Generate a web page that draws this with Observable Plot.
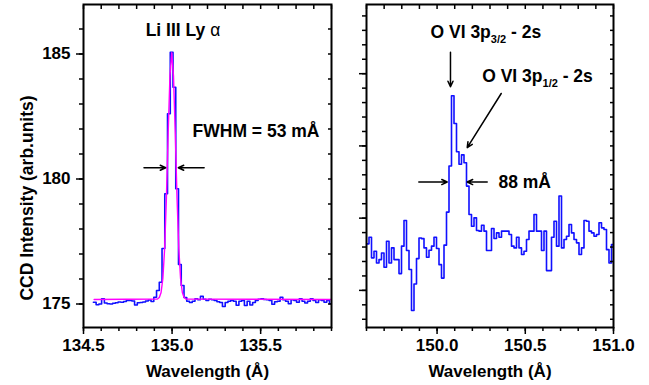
<!DOCTYPE html>
<html><head><meta charset="utf-8">
<script src="https://cdn.jsdelivr.net/npm/d3@7"></script>
<script src="https://cdn.jsdelivr.net/npm/@observablehq/plot@0.6"></script>
<style>
body{margin:0;background:#fff;}
#chart{display:flex;width:649px;height:385px;background:#fff;}
</style></head><body><div id="chart"></div>
<script>
// ---------- Left panel data: Li III Ly-alpha spectrum (histogram bins) ----------
const leftBinStart = 134.5558;   // wavelength of first bin edge (Å)
const leftBinWidth = 0.0155;     // bin width (Å)
const leftCounts = [
  175.07,174.97,175.00,175.21,175.04,175.01,175.00,175.03,175.05,175.08,
  175.07,175.10,175.14,175.14,175.12,174.96,175.05,175.06,175.08,175.12,
  175.16,175.10,175.27,175.54,175.87,177.22,179.41,182.61,185.07,183.67,
  179.61,176.58,175.74,175.26,175.11,175.06,175.11,175.21,175.17,175.31,
  175.19,175.14,175.19,175.17,175.14,175.09,175.06,174.90,175.06,175.11,
  175.14,175.11,174.95,175.11,175.14,174.94,175.11,174.96,175.06,175.14,
  175.19,175.21,175.18,175.17,175.14,174.99,175.09,175.11,175.27,175.17,
  175.11,175.01,175.17,175.14,175.07,175.21,175.11,175.04,175.11,175.21,
  175.14,175.06,175.17,175.14,175.07,175.14,175.01
];
// Gaussian fit curve (magenta)
const leftFitX = [134.56,134.918,134.928,134.938,134.948,134.958,134.968,134.978,134.988,134.998,
                  135.008,135.018,135.028,135.038,135.048,135.058,135.068,135.078,135.9];
const leftFitY = [175.18,175.20,175.26,175.46,176.02,177.21,179.24,181.83,184.12,185.05,
                  184.12,181.83,179.24,177.21,176.02,175.46,175.26,175.20,175.18];
const leftXTicks = [134.5, 135.0, 135.5];
const leftXMinor = [134.5,134.6,134.7,134.8,134.9,135.0,135.1,135.2,135.3,135.4,135.5,135.6,135.7,135.8,135.9];
const leftYTicks = [175, 180, 185];
const leftYMinor = [175,176,177,178,179,180,181,182,183,184,185,186];

// ---------- Right panel data: O VI 3p - 2s spectrum ----------
const rightBinStart = 149.6;
const rightBinWidth = 0.01417;
const rightCounts = [
  13.22,13.68,12.25,12.71,11.90,12.13,12.59,11.60,13.40,11.90,
  12.94,12.13,12.13,11.16,13.06,14.84,12.76,11.44,8.61,10.44,
  12.20,13.63,13.58,12.94,12.29,12.78,13.06,13.68,12.90,11.78,
  10.85,13.13,15.42,18.61,23.47,21.55,19.60,18.73,19.38,18.84,
  17.22,15.25,14.44,15.02,14.14,14.10,14.51,14.10,12.76,12.76,
  14.28,13.59,13.98,13.68,14.10,14.10,14.10,13.87,13.06,12.94,
  13.68,12.94,12.48,12.71,13.52,14.10,14.10,15.25,14.10,14.10,
  12.76,14.10,11.37,11.37,13.68,14.79,13.06,16.53,12.94,13.52,
  13.75,14.56,13.98,13.52,13.29,12.48,12.94,14.84,14.79,14.10,
  13.98,13.75,13.87,14.68,14.33,14.21,12.82,11.90,13.17
];
const rightXTicks = [150.0, 150.5, 151.0];
const rightXMinor = [149.6,149.7,149.8,149.9,150.0,150.1,150.2,150.3,150.4,150.5,150.6,150.7,150.8,150.9,151.0];
const rightYTicks = [10, 15, 20, 25];
const rightYMinor = [8,9,10,11,12,13,14,15,16,17,18,19,20,21,22,23,24,25,26,27,28,29];

// ---------- Texts ----------
const xTitle = "Wavelength (Å)";
const yTitle = "CCD Intensity (arb.units)";
const leftNoteText = ["Li III Ly α", "FWHM = 53 mÅ"];
const rightNoteText = ["O VI 3p3/2 - 2s", "O VI 3p1/2 - 2s", "88 mÅ"];

// ---------- Annotation placement (data coordinates) ----------
const leftNotes = [
  {x: 134.851, y: 185.71, text: leftNoteText[0]},
  {x: 135.1155, y: 181.67, text: leftNoteText[1]}
];
const leftArrows = [
  {x1: 134.8415, y1: 180.45, x2: 134.964, y2: 180.45},
  {x1: 135.181, y1: 180.45, x2: 135.035, y2: 180.45}
];
const rightNotes = [
  {x: 149.9628, y: 27.48, text: rightNoteText[0]},
  {x: 150.2559, y: 24.40, text: rightNoteText[1]},
  {x: 150.348, y: 17.08, text: rightNoteText[2]}
];
const rightArrows = [
  {x1: 150.076, y1: 26.48, x2: 150.076, y2: 24.1},
  {x1: 150.3636, y1: 23.63, x2: 150.1709, y2: 19.88},
  {x1: 149.8965, y1: 17.5, x2: 150.0575, y2: 17.5},
  {x1: 150.2842, y1: 17.5, x2: 150.1709, y2: 17.5}
];

// ---------- Build step series ----------
function steps(start, width, vals) {
  const pts = vals.map((v, i) => ({x: start + i * width, y: v}));
  pts.push({x: start + vals.length * width, y: vals[vals.length - 1]});
  return pts;
}
const leftSteps = steps(leftBinStart, leftBinWidth, leftCounts);
const leftFit = leftFitX.map((x, i) => ({x, y: leftFitY[i]}));
const rightSteps = steps(rightBinStart, rightBinWidth, rightCounts);

const FONT = "'Liberation Sans', Arial, Helvetica, sans-serif";
const baseStyle = {fontFamily: FONT, fontSize: "17px", fontWeight: "bold", background: "white", color: "black", overflow: "visible"};
const fmt1 = d3.format(".1f");

const left = Plot.plot({
  width: 345, height: 385,
  marginLeft: 83, marginRight: 14, marginTop: 4, marginBottom: 58,
  style: baseStyle,
  x: {domain: [134.5, 135.9]},
  y: {domain: [174.06, 186.98]},
  marks: [
    Plot.line(leftSteps, {x: "x", y: "y", curve: "step-after", stroke: "#1010ff", strokeWidth: 1.6, clip: true}),
    Plot.line(leftFit, {x: "x", y: "y", stroke: "#ff00ff", strokeWidth: 1.4, clip: true}),
    Plot.axisX(leftXTicks, {anchor: "bottom", tickSize: 7, tickPadding: 4, tickFormat: fmt1, strokeWidth: 1.5,
      label: xTitle, labelAnchor: "center", labelArrow: "none", labelOffset: 49}),
    Plot.axisX(leftXMinor, {anchor: "bottom", tickSize: 4, strokeWidth: 1.5, fill: "none", label: null}),
    Plot.axisX(leftXMinor, {anchor: "top", tickSize: -4, strokeWidth: 1.5, fill: "none", label: null}),
    Plot.axisY(leftYTicks, {anchor: "left", tickSize: 7, tickPadding: 6, strokeWidth: 1.5, label: null}),
    Plot.axisY(leftYMinor, {anchor: "left", tickSize: 4, strokeWidth: 1.5, fill: "none", label: null}),
    Plot.axisY(leftYMinor, {anchor: "right", tickSize: -4, strokeWidth: 1.5, fill: "none", label: null}),
    Plot.text([yTitle], {text: d => d, frameAnchor: "left", rotate: -90, textAnchor: "middle", lineAnchor: "top",
      dx: -63, dy: 32, fontSize: 17.5, fontWeight: "bold"}),
    Plot.frame({stroke: "black", strokeWidth: 2}),
    Plot.arrow(leftArrows, {x1: "x1", y1: "y1", x2: "x2", y2: "y2", stroke: "black", strokeWidth: 1.5, headLength: 6, headAngle: 50}),
    Plot.text(leftNotes, {x: "x", y: "y", text: "text", textAnchor: "start", lineAnchor: "bottom", fontSize: 17.5, fontWeight: "bold"})
  ]
});

const right = Plot.plot({
  width: 304, height: 385,
  marginLeft: 21, marginRight: 36, marginTop: 4, marginBottom: 58,
  style: baseStyle,
  x: {domain: [149.6, 151.0]},
  y: {domain: [7.43, 29.79]},
  marks: [
    Plot.line(rightSteps, {x: "x", y: "y", curve: "step-after", stroke: "#1010ff", strokeWidth: 1.6, clip: true}),
    Plot.axisX(rightXTicks, {anchor: "bottom", tickSize: 7, tickPadding: 4, tickFormat: fmt1, strokeWidth: 1.5,
      label: xTitle, labelAnchor: "center", labelArrow: "none", labelOffset: 49}),
    Plot.axisX(rightXMinor, {anchor: "bottom", tickSize: 4, strokeWidth: 1.5, fill: "none", label: null}),
    Plot.axisX(rightXMinor, {anchor: "top", tickSize: -4, strokeWidth: 1.5, fill: "none", label: null}),
    Plot.axisY(rightYTicks, {anchor: "left", tickSize: 7, strokeWidth: 1.5, fill: "none", label: null}),
    Plot.axisY(rightYMinor, {anchor: "left", tickSize: 4, strokeWidth: 1.5, fill: "none", label: null}),
    Plot.axisY(rightYMinor, {anchor: "right", tickSize: -4, strokeWidth: 1.5, fill: "none", label: null}),
    Plot.frame({stroke: "black", strokeWidth: 2}),
    Plot.arrow(rightArrows, {x1: "x1", y1: "y1", x2: "x2", y2: "y2", stroke: "black", strokeWidth: 1.5, headLength: 6, headAngle: 50}),
    Plot.text(rightNotes, {x: "x", y: "y", text: "text", textAnchor: "start", lineAnchor: "bottom", fontSize: 17.5, fontWeight: "bold"})
  ]
});

// Subscripts and Greek letter styling (text stays real text)
const NS = "http://www.w3.org/2000/svg";
function tspan(parent, str, attrs) {
  const t = document.createElementNS(NS, "tspan");
  for (const k in attrs) t.setAttribute(k, attrs[k]);
  t.textContent = str;
  parent.appendChild(t);
}
function decorate(svg) {
  svg.querySelectorAll("text").forEach(t => {
    const s = t.textContent;
    const m = s.match(/^(O VI 3p)(\d\/\d)( - 2s)$/);
    if (m) {
      t.textContent = "";
      t.setAttribute("xml:space", "preserve");
      tspan(t, m[1], {});
      tspan(t, m[2], {"font-size": "11px", dy: "5"});
      tspan(t, m[3], {"font-size": "17.5px", dy: "-5"});
    } else if (s === "Li III Ly α") {
      t.textContent = "";
      t.setAttribute("xml:space", "preserve");
      tspan(t, "Li III Ly ", {});
      tspan(t, "α", {"font-weight": "normal"});
    }
  });
}
decorate(left);
decorate(right);

document.getElementById("chart").append(left, right);
</script>
</body></html>
